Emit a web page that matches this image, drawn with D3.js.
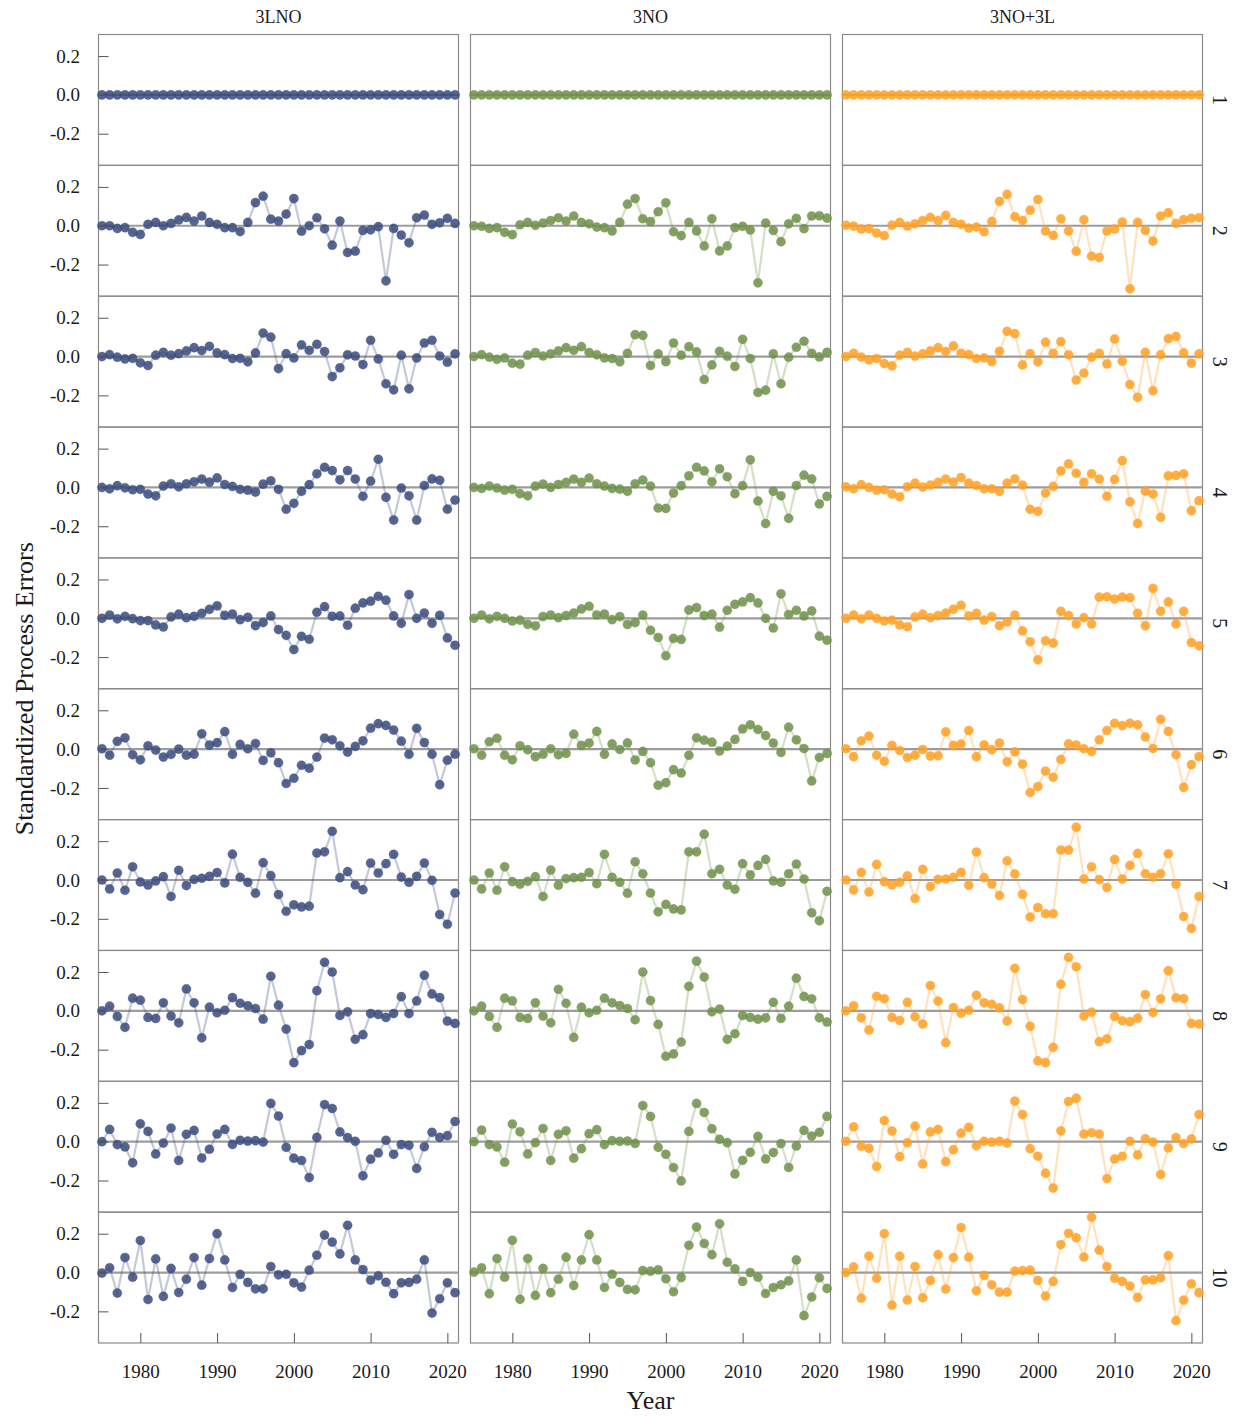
<!DOCTYPE html>
<html>
<head>
<meta charset="utf-8">
<script src="https://cdn.jsdelivr.net/npm/d3@7/dist/d3.min.js"></script>
<style>
  body { margin: 0; background: #ffffff; }
  svg text { font-family: "Liberation Serif", "DejaVu Serif", serif; fill: #1a1a1a; }
</style>
</head>
<body>
<svg id="chart" width="1239" height="1416"></svg>
<script>
// ---------------- DATA ----------------
const years = [1975,1976,1977,1978,1979,1980,1981,1982,1983,1984,1985,1986,1987,1988,1989,1990,
  1991,1992,1993,1994,1995,1996,1997,1998,1999,2000,2001,2002,2003,2004,2005,2006,2007,2008,
  2009,2010,2011,2012,2013,2014,2015,2016,2017,2018,2019,2020,2021];
const columns = ["3LNO", "3NO", "3NO+3L"];
const rowLabels = ["1","2","3","4","5","6","7","8","9","10"];
const yTickValues = [-0.2, 0.0, 0.2];
const xTickValues = [1980, 1990, 2000, 2010, 2020];

// Row 1 (all series identical: zero everywhere)
const row1_zero = [0,0,0,0,0,0,0,0,0,0,0,0,0,0,0,0,0,0,0,0,0,0,0,0,0,0,0,0,0,0,0,0,0,0,0,0,0,0,0,0,0,0,0,0,0,0,0];

// ---- 3LNO ----
const lno_r2 = [0.000,0.000,-0.014,-0.010,-0.034,-0.045,0.007,0.017,0.000,0.012,0.030,0.043,0.024,0.050,0.017,0.007,-0.010,-0.010,-0.030,0.017,0.119,0.152,0.034,0.024,0.060,0.140,-0.028,0.000,0.041,-0.016,-0.100,0.024,-0.138,-0.131,-0.024,-0.021,-0.005,-0.284,-0.014,-0.048,-0.088,0.041,0.055,0.007,0.015,0.038,0.012];
const lno_r3 = [0.000,0.010,-0.003,-0.012,-0.009,-0.032,-0.046,0.007,0.022,0.007,0.015,0.029,0.046,0.031,0.053,0.019,0.010,-0.010,-0.009,-0.027,0.019,0.121,0.100,-0.062,0.015,-0.007,0.060,0.032,0.063,0.026,-0.103,-0.058,0.009,0.003,-0.041,0.084,-0.012,-0.140,-0.171,0.007,-0.166,-0.007,0.070,0.084,0.003,-0.029,0.014];
const lno_r4 = [0.000,-0.007,0.009,-0.002,-0.012,-0.010,-0.034,-0.043,0.007,0.019,0.003,0.019,0.029,0.043,0.027,0.049,0.015,0.005,-0.010,-0.014,-0.024,0.017,0.034,-0.010,-0.112,-0.082,-0.020,0.014,0.070,0.104,0.087,0.039,0.087,0.043,-0.046,0.032,0.145,-0.051,-0.168,-0.003,-0.043,-0.168,0.010,0.044,0.037,-0.112,-0.065];
const lno_r5 = [0.000,0.017,-0.003,0.010,-0.002,-0.012,-0.012,-0.034,-0.045,0.007,0.021,0.003,0.010,0.026,0.046,0.064,0.015,0.022,-0.007,0.005,-0.038,-0.022,0.012,-0.058,-0.088,-0.161,-0.093,-0.108,0.031,0.060,0.010,0.012,-0.036,0.052,0.079,0.088,0.113,0.093,0.012,-0.026,0.122,0.000,0.027,-0.026,0.015,-0.101,-0.139];
const lno_r6 = [0.002,-0.031,0.040,0.058,-0.029,-0.055,0.017,-0.005,-0.041,-0.027,0.000,-0.031,-0.026,0.079,0.021,0.033,0.090,-0.027,0.024,0.002,0.029,-0.058,-0.019,-0.070,-0.177,-0.150,-0.083,-0.098,-0.041,0.057,0.048,0.017,-0.015,0.014,0.043,0.108,0.131,0.122,0.098,0.041,-0.027,0.107,0.034,-0.026,-0.183,-0.057,-0.026];
const lno_r7 = [0.000,-0.046,0.036,-0.053,0.068,-0.010,-0.026,-0.005,0.017,-0.085,0.050,-0.029,0.003,0.009,0.019,0.038,-0.015,0.133,0.014,-0.012,-0.068,0.089,0.022,-0.075,-0.161,-0.128,-0.139,-0.135,0.139,0.145,0.251,0.012,0.043,-0.026,-0.050,0.087,0.036,0.084,0.132,0.015,-0.012,0.019,0.087,-0.002,-0.178,-0.228,-0.067];
const lno_r8 = [0.000,0.024,-0.029,-0.085,0.065,0.055,-0.034,-0.039,0.041,-0.027,-0.062,0.113,0.041,-0.139,0.019,-0.010,0.003,0.068,0.039,0.026,0.012,-0.043,0.178,0.029,-0.094,-0.267,-0.205,-0.174,0.104,0.250,0.200,-0.024,-0.005,-0.147,-0.123,-0.014,-0.019,-0.034,-0.014,0.073,-0.014,0.051,0.183,0.087,0.068,-0.053,-0.065];
const lno_r9 = [0.000,0.063,-0.015,-0.027,-0.109,0.092,0.053,-0.063,-0.007,0.070,-0.097,0.038,0.058,-0.084,-0.039,0.039,0.063,-0.014,0.007,0.003,0.005,-0.002,0.197,0.132,-0.029,-0.085,-0.097,-0.185,0.022,0.191,0.171,0.050,0.021,0.002,-0.176,-0.090,-0.058,0.007,-0.065,-0.015,-0.019,-0.138,-0.026,0.048,0.022,0.031,0.104];
const lno_r10 = [-0.003,0.024,-0.106,0.077,-0.024,0.165,-0.139,0.070,-0.123,0.021,-0.103,-0.034,0.077,-0.065,0.072,0.200,0.065,-0.077,-0.010,-0.051,-0.084,-0.084,0.031,-0.012,-0.009,-0.053,-0.075,0.012,0.089,0.193,0.157,0.096,0.243,0.065,0.015,-0.039,-0.017,-0.050,-0.109,-0.053,-0.051,-0.034,0.065,-0.209,-0.135,-0.053,-0.104];

// ---- 3NO ----
const no_r2 = [0.000,-0.003,-0.014,-0.010,-0.034,-0.046,0.005,0.017,0.002,0.014,0.027,0.041,0.024,0.050,0.017,0.010,-0.007,-0.010,-0.027,0.017,0.111,0.140,0.036,0.021,0.072,0.118,-0.031,-0.051,0.017,-0.027,-0.104,0.036,-0.130,-0.104,-0.010,-0.003,-0.022,-0.294,0.014,-0.024,-0.082,0.010,0.038,-0.015,0.050,0.051,0.039];
const no_r3 = [0.000,0.010,-0.003,-0.014,-0.007,-0.034,-0.039,0.007,0.021,0.003,0.014,0.029,0.046,0.032,0.051,0.021,0.009,-0.007,-0.010,-0.027,0.017,0.113,0.109,-0.046,0.014,-0.026,0.070,0.007,0.051,0.024,-0.118,-0.043,0.027,0.002,-0.051,0.089,-0.010,-0.185,-0.173,0.014,-0.140,-0.003,0.048,0.079,0.017,-0.002,0.022];
const no_r4 = [0.000,-0.005,0.007,-0.003,-0.014,-0.010,-0.032,-0.043,0.007,0.017,0.000,0.015,0.026,0.043,0.026,0.048,0.019,0.007,-0.005,-0.009,-0.020,0.019,0.038,0.007,-0.106,-0.108,-0.029,0.009,0.060,0.104,0.085,0.029,0.096,0.055,-0.032,0.009,0.142,-0.070,-0.186,-0.020,-0.043,-0.159,0.010,0.063,0.044,-0.085,-0.046];
const no_r5 = [0.000,0.017,-0.003,0.010,0.000,-0.014,-0.010,-0.031,-0.039,0.009,0.017,0.003,0.014,0.027,0.048,0.062,0.017,0.022,-0.007,0.009,-0.032,-0.022,0.017,-0.062,-0.099,-0.193,-0.104,-0.109,0.043,0.055,0.014,0.021,-0.046,0.041,0.072,0.084,0.106,0.079,0.000,-0.050,0.126,0.019,0.041,0.012,0.038,-0.092,-0.113];
const no_r6 = [0.002,-0.031,0.038,0.056,-0.031,-0.055,0.017,-0.003,-0.039,-0.026,0.002,-0.029,-0.022,0.077,0.019,0.031,0.091,-0.027,0.027,-0.002,0.032,-0.056,-0.012,-0.070,-0.186,-0.173,-0.106,-0.123,-0.032,0.058,0.046,0.036,-0.010,0.015,0.050,0.104,0.125,0.101,0.070,0.031,-0.017,0.113,0.048,0.003,-0.164,-0.043,-0.022];
const no_r7 = [0.000,-0.046,0.036,-0.053,0.068,-0.009,-0.022,-0.007,0.017,-0.085,0.051,-0.027,0.007,0.012,0.014,0.038,-0.019,0.132,0.014,-0.012,-0.068,0.094,0.032,-0.067,-0.164,-0.126,-0.149,-0.154,0.145,0.145,0.236,0.032,0.055,-0.026,-0.048,0.084,0.026,0.075,0.106,-0.005,-0.012,0.032,0.082,0.005,-0.169,-0.210,-0.058];
const no_r8 = [0.000,0.024,-0.029,-0.085,0.065,0.051,-0.034,-0.039,0.041,-0.027,-0.062,0.111,0.039,-0.137,0.019,-0.010,0.003,0.065,0.041,0.027,0.012,-0.046,0.200,0.053,-0.070,-0.234,-0.222,-0.161,0.126,0.256,0.174,-0.005,0.009,-0.147,-0.118,-0.024,-0.034,-0.043,-0.036,0.044,-0.039,0.024,0.168,0.074,0.062,-0.036,-0.058];
const no_r9 = [0.000,0.060,-0.015,-0.027,-0.106,0.091,0.051,-0.063,-0.005,0.068,-0.097,0.038,0.056,-0.085,-0.036,0.041,0.062,-0.015,0.005,0.002,0.003,-0.009,0.186,0.130,-0.029,-0.065,-0.133,-0.202,0.053,0.197,0.150,0.067,0.012,-0.005,-0.166,-0.096,-0.055,0.027,-0.089,-0.056,-0.010,-0.133,-0.022,0.058,0.029,0.048,0.130];
const no_r10 = [0.002,0.024,-0.109,0.072,-0.024,0.166,-0.138,0.072,-0.118,0.021,-0.104,-0.034,0.079,-0.067,0.065,0.195,0.065,-0.077,-0.009,-0.051,-0.087,-0.089,0.010,0.007,0.014,-0.032,-0.099,-0.026,0.140,0.234,0.149,0.092,0.251,0.053,0.019,-0.046,0.000,-0.024,-0.108,-0.077,-0.063,-0.043,0.065,-0.222,-0.126,-0.027,-0.082];

// ---- 3NO+3L ----
const nol_r2 = [0.002,-0.002,-0.017,-0.015,-0.038,-0.051,0.003,0.017,-0.002,0.010,0.027,0.043,0.026,0.053,0.017,0.007,-0.012,-0.007,-0.031,0.022,0.125,0.161,0.046,0.027,0.080,0.135,-0.027,-0.050,0.036,-0.027,-0.132,0.031,-0.157,-0.164,-0.027,-0.017,0.019,-0.325,0.017,-0.024,-0.079,0.050,0.067,0.012,0.031,0.038,0.041];
const nol_r3 = [0.000,0.017,-0.003,-0.017,-0.010,-0.036,-0.048,0.007,0.022,0.002,0.014,0.029,0.046,0.026,0.055,0.017,0.010,-0.010,-0.007,-0.026,0.027,0.130,0.118,-0.043,0.015,-0.027,0.074,0.017,0.077,0.009,-0.121,-0.085,-0.003,0.017,-0.038,0.091,-0.024,-0.144,-0.210,0.022,-0.176,0.010,0.092,0.104,0.019,-0.034,0.014];
const nol_r4 = [0.003,-0.007,0.014,0.000,-0.014,-0.012,-0.034,-0.048,0.003,0.022,0.002,0.012,0.026,0.043,0.027,0.051,0.022,0.010,-0.007,-0.007,-0.020,0.022,0.044,0.012,-0.113,-0.123,-0.029,0.005,0.085,0.121,0.073,0.026,0.070,0.043,-0.046,0.041,0.138,-0.074,-0.186,-0.019,-0.034,-0.154,0.060,0.062,0.070,-0.120,-0.068];
const nol_r5 = [0.000,0.017,-0.003,0.017,0.000,-0.014,-0.010,-0.034,-0.044,0.007,0.021,0.003,0.014,0.027,0.046,0.067,0.012,0.026,-0.010,0.009,-0.038,-0.019,0.017,-0.065,-0.121,-0.214,-0.116,-0.128,0.036,0.014,-0.029,0.003,-0.029,0.109,0.111,0.099,0.109,0.106,0.026,-0.039,0.154,0.036,0.084,-0.029,0.036,-0.125,-0.142];
const nol_r6 = [0.002,-0.039,0.043,0.067,-0.032,-0.063,0.019,-0.007,-0.043,-0.031,-0.002,-0.036,-0.034,0.089,0.019,0.026,0.096,-0.039,0.022,-0.003,0.031,-0.065,-0.014,-0.077,-0.224,-0.193,-0.113,-0.145,-0.053,0.027,0.021,0.002,-0.012,0.048,0.096,0.133,0.121,0.133,0.125,0.063,0.003,0.154,0.091,-0.029,-0.197,-0.080,-0.038];
const nol_r7 = [0.000,-0.051,0.039,-0.062,0.080,-0.009,-0.026,-0.012,0.021,-0.096,0.055,-0.034,0.003,0.005,0.014,0.039,-0.027,0.144,0.012,-0.021,-0.080,0.099,0.031,-0.074,-0.191,-0.142,-0.174,-0.174,0.154,0.154,0.272,0.005,0.068,0.002,-0.039,0.106,0.005,0.075,0.137,0.032,0.014,0.032,0.135,-0.022,-0.188,-0.250,-0.085];
const nol_r8 = [0.000,0.026,-0.036,-0.099,0.075,0.062,-0.034,-0.050,0.044,-0.031,-0.068,0.130,0.050,-0.164,0.017,-0.012,0.003,0.080,0.041,0.034,0.015,-0.053,0.219,0.058,-0.080,-0.258,-0.267,-0.188,0.137,0.275,0.227,-0.027,-0.007,-0.159,-0.144,-0.029,-0.051,-0.056,-0.038,0.084,-0.009,0.062,0.207,0.067,0.063,-0.065,-0.068];
const nol_r9 = [0.002,0.077,-0.024,-0.034,-0.128,0.109,0.055,-0.077,-0.005,0.080,-0.115,0.050,0.063,-0.103,-0.041,0.044,0.074,-0.021,0.002,-0.002,0.002,-0.007,0.209,0.140,-0.036,-0.075,-0.162,-0.239,0.056,0.207,0.224,0.039,0.046,0.039,-0.190,-0.089,-0.075,0.002,-0.068,0.015,-0.002,-0.169,-0.032,0.021,-0.010,0.014,0.140];
const nol_r10 = [0.000,0.029,-0.132,0.085,-0.029,0.200,-0.168,0.084,-0.142,0.031,-0.130,-0.041,0.092,-0.085,0.077,0.232,0.079,-0.094,-0.015,-0.063,-0.101,-0.101,0.007,0.010,0.012,-0.041,-0.121,-0.046,0.144,0.202,0.179,0.080,0.285,0.115,0.031,-0.029,-0.046,-0.070,-0.128,-0.038,-0.038,-0.027,0.087,-0.248,-0.142,-0.058,-0.104];

// table built from the named arrays: [column][row]
const series = [
  [row1_zero, lno_r2, lno_r3, lno_r4, lno_r5, lno_r6, lno_r7, lno_r8, lno_r9, lno_r10],
  [row1_zero, no_r2,  no_r3,  no_r4,  no_r5,  no_r6,  no_r7,  no_r8,  no_r9,  no_r10],
  [row1_zero, nol_r2, nol_r3, nol_r4, nol_r5, nol_r6, nol_r7, nol_r8, nol_r9, nol_r10]
];

// ---------------- STYLE / LAYOUT ----------------
const colColors = ["#3A4B7D", "#6F914A", "#FFA024"];
const colLeft = [98.5, 470.5, 842.5];
const panelW = 360;
const top0 = 34.5;
const rowH = 130.85;
const nRows = rowLabels.length;
const tickFont = "19px";

const svg = d3.select("#chart");

const x = d3.scaleLinear().domain([1974.55, 2021.45]).range([0, panelW]);
const y = d3.scaleLinear().domain([-0.363, 0.311]).range([rowH, 0]);

const line = d3.line()
  .x((d, i) => x(years[i]))
  .y(d => y(d));

columns.forEach((colName, c) => {
  // column header
  svg.append("text")
    .attr("x", colLeft[c] + panelW / 2)
    .attr("y", 23)
    .attr("text-anchor", "middle")
    .style("font-size", "18px")
    .text(colName);

  for (let r = 0; r < nRows; r++) {
    const g = svg.append("g")
      .attr("transform", `translate(${colLeft[c]},${top0 + r * rowH})`);

    // panel border
    g.append("rect")
      .attr("x", 0).attr("y", 0)
      .attr("width", panelW).attr("height", rowH)
      .attr("fill", "none")
      .attr("stroke", "#8a8a8a")
      .attr("stroke-width", 1.2);

    // zero reference line
    g.append("line")
      .attr("x1", 0).attr("x2", panelW)
      .attr("y1", y(0)).attr("y2", y(0))
      .attr("stroke", "#9c9c9c")
      .attr("stroke-width", 2.2);

    const vals = series[c][r];

    g.append("path")
      .datum(vals)
      .attr("d", line)
      .attr("fill", "none")
      .attr("stroke", colColors[c])
      .attr("stroke-opacity", 0.3)
      .attr("stroke-width", 2.2);

    g.selectAll("circle")
      .data(vals)
      .join("circle")
      .attr("cx", (d, i) => x(years[i]))
      .attr("cy", d => y(d))
      .attr("r", 4.6)
      .attr("fill", colColors[c])
      .attr("fill-opacity", 0.85)
      .attr("stroke", colColors[c])
      .attr("stroke-opacity", 0.5)
      .attr("stroke-width", 0.6);

    // y axis on first column (ticks inside)
    if (c === 0) {
      const ay = g.append("g")
        .call(d3.axisLeft(y).tickValues(yTickValues).tickSize(-10).tickPadding(18.5)
          .tickFormat(d => d.toFixed(1)));
      ay.select(".domain").remove();
      ay.selectAll(".tick line").attr("stroke", "#555");
      ay.selectAll(".tick text")
        .style("font-size", tickFont)
        .style("font-family", "'Liberation Serif', 'DejaVu Serif', serif")
        .attr("fill", "#1a1a1a");
    }
    // x axis on bottom row (ticks inside)
    if (r === nRows - 1) {
      const ax = g.append("g")
        .attr("transform", `translate(0,${rowH})`)
        .call(d3.axisBottom(x).tickValues(xTickValues).tickSize(-10).tickPadding(21.5)
          .tickFormat(d3.format("d")));
      ax.select(".domain").remove();
      ax.selectAll(".tick line").attr("stroke", "#555");
      ax.selectAll(".tick text")
        .style("font-size", tickFont)
        .style("font-family", "'Liberation Serif', 'DejaVu Serif', serif")
        .attr("fill", "#1a1a1a");
    }
    // row strip label on the right (last column)
    if (c === columns.length - 1) {
      svg.append("text")
        .attr("transform", `translate(${colLeft[c] + panelW + 10},${top0 + r * rowH + rowH / 2}) rotate(90)`)
        .attr("text-anchor", "middle")
        .style("font-size", "20px")
        .text(rowLabels[r]);
    }
  }
});

// axis titles
svg.append("text")
  .attr("transform", `translate(33,${top0 + nRows * rowH / 2}) rotate(-90)`)
  .attr("text-anchor", "middle")
  .style("font-size", "26px")
  .text("Standardized Process Errors");

svg.append("text")
  .attr("x", colLeft[1] + panelW / 2)
  .attr("y", 1409)
  .attr("text-anchor", "middle")
  .style("font-size", "26px")
  .text("Year");
</script>
</body>
</html>
